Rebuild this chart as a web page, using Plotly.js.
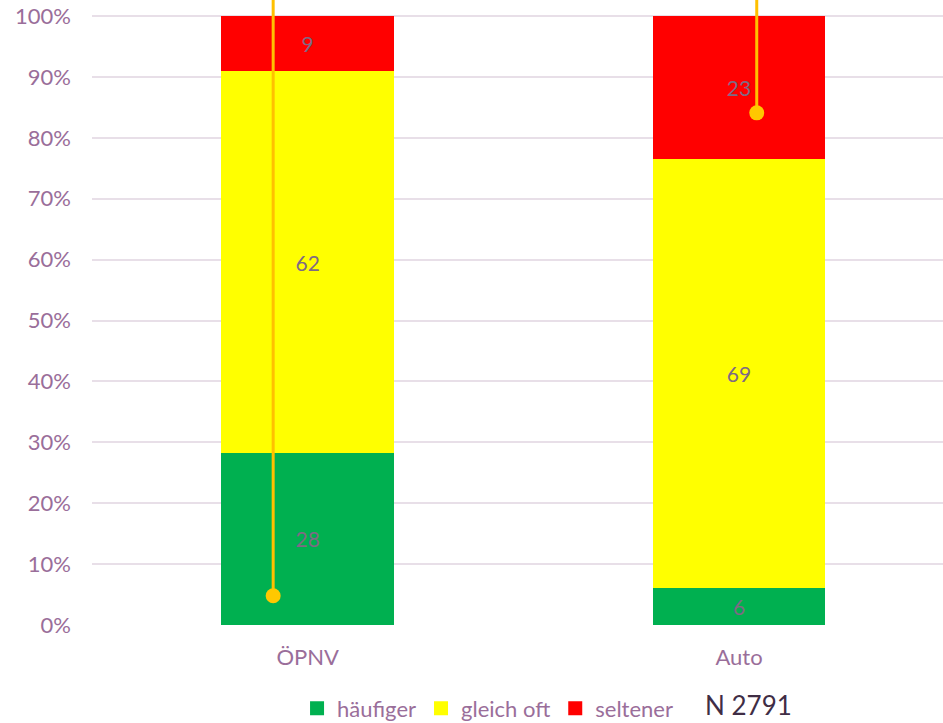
<!DOCTYPE html>
<html>
<head>
<meta charset="utf-8">
<script src="https://cdn.plot.ly/plotly-3.0.1.min.js"></script>
<style>html,body{margin:0;padding:0;background:#fff;}#chart{width:943px;height:723px;}</style>
</head>
<body>
<div id="chart"></div>
<script>
const categories = ['ÖPNV', 'Auto'];
const catIndex = [0, 1];
const haeufiger = [28, 6];
const gleichOft = [62, 69];
const seltener = [9, 23];
const seriesNames = ['häufiger', 'gleich oft', 'seltener'];
const seriesColors = ['#00b050', '#ffff00', '#ff0000'];
const yTicks = [0, 10, 20, 30, 40, 50, 60, 70, 80, 90, 100];
// yellow pin markers (x in category units, y in percent)
const pin1X = [-0.08, -0.08];
const pin1Y = [4.8, 103];
const pin2X = [1.041, 1.041];
const pin2Y = [84.1, 103];
const sampleNote = 'N 2791';

const fontFam = 'Lato, "Open Sans", sans-serif';
const tickColor = '#9a6e9a';
const labelColor = '#7e6a84';

function barTrace(vals, i) {
  return {
    type: 'bar', x: catIndex, y: vals, name: seriesNames[i],
    marker: {color: seriesColors[i], line: {width: 0}},
    width: 0.4, showlegend: false,
    text: vals.map(String), textposition: 'inside', insidetextanchor: 'middle',
    textangle: 0, constraintext: 'none',
    textfont: {family: fontFam, size: 21, color: labelColor},
    hoverinfo: 'skip'
  };
}
function legendTrace(i) {
  return {
    type: 'scatter', mode: 'markers', x: [null], y: [null], name: seriesNames[i],
    marker: {color: seriesColors[i], symbol: 'square', size: 14, line: {width: 0}},
    hoverinfo: 'skip'
  };
}
function pinTrace(xs, ys) {
  return {
    type: 'scatter', mode: 'lines+markers', x: xs, y: ys, showlegend: false,
    line: {color: '#ffc000', width: 3},
    marker: {color: '#ffc800', size: [15, 0], opacity: 1, line: {width: 0}},
    cliponaxis: false, hoverinfo: 'skip'
  };
}

const data = [
  barTrace(haeufiger, 0), barTrace(gleichOft, 1), barTrace(seltener, 2),
  pinTrace(pin1X, pin1Y), pinTrace(pin2X, pin2Y),
  legendTrace(0), legendTrace(1), legendTrace(2)
];

const layout = {
  width: 943, height: 723,
  margin: {l: 92, r: 0, t: 0, b: 98, autoexpand: false},
  barmode: 'stack', barnorm: 'percent',
  paper_bgcolor: '#fff', plot_bgcolor: '#fff',
  font: {family: fontFam, color: tickColor},
  xaxis: {
    type: 'linear', range: [-0.5, 1.4728],
    tickvals: catIndex, ticktext: categories,
    showgrid: false, zeroline: false, showline: false, ticks: '',
    ticklabelstandoff: 17,
    tickfont: {family: fontFam, size: 22, color: tickColor},
    fixedrange: true
  },
  yaxis: {
    range: [0, 102.63], tickvals: yTicks, ticktext: yTicks.map(v => v + '%'),
    showgrid: true, gridcolor: '#e8dfe8', gridwidth: 2,
    zeroline: false, showline: false, ticks: '',
    ticklabelstandoff: 20,
    tickfont: {family: fontFam, size: 22, color: tickColor},
    fixedrange: true
  },
  showlegend: true,
  legend: {
    orientation: 'h', xref: 'container', yref: 'container',
    x: 0.315, xanchor: 'left', y: 0.02, yanchor: 'middle',
    font: {family: fontFam, size: 22, color: tickColor},
    traceorder: 'normal', itemwidth: 30
  },
  annotations: [{
    text: sampleNote, xref: 'paper', yref: 'paper', x: 0.771, y: -0.128,
    xanchor: 'center', yanchor: 'middle', showarrow: false, borderpad: 0,
    font: {family: fontFam, size: 26, color: '#3f2d45'}
  }]
};

Plotly.newPlot('chart', data, layout, {displayModeBar: false, staticPlot: true});
</script>
</body>
</html>
